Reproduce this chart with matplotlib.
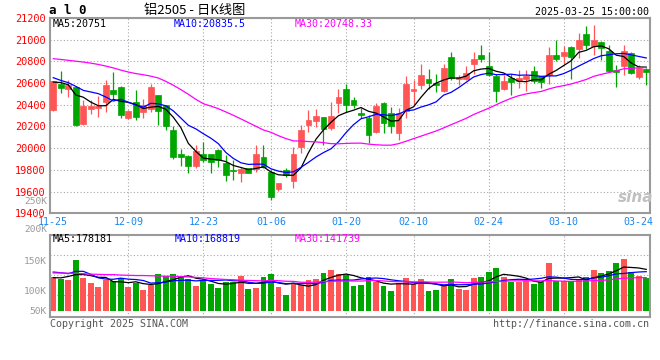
import matplotlib
matplotlib.use("Agg")
import matplotlib.pyplot as plt
import numpy as np
import pandas as pd

plt.rcParams['font.family'] = ['DejaVu Sans Mono', 'Noto Sans CJK SC']

# ==================== 数据 ====================
# 交易日: 2024-11-25 ~ 2025-03-25 (元旦、春节休市)
HOLIDAYS = ['2025-01-01', '2025-01-28', '2025-01-29', '2025-01-30',
            '2025-01-31', '2025-02-03', '2025-02-04']
dates = pd.bdate_range('2024-11-25', '2025-03-25', freq='C', holidays=HOLIDAYS)

opens = [20350, 20595, 20549, 20560, 20221, 20359, 20368, 20426, 20533, 20564,
         20279, 20423, 20334, 20365, 20487, 20395, 20166, 19945, 19926, 19835,
         19950, 19945, 19988, 19865, 19798, 19767, 19813, 19804, 19920, 19782,
         19623, 19798, 19700, 20012, 20212, 20251, 20288, 20190, 20420, 20549,
         20442, 20329, 20274, 20145, 20421, 20320, 20136, 20341, 20525, 20580,
         20641, 20605, 20525, 20841, 20635, 20641, 20779, 20862, 20758, 20668,
         20545, 20649, 20619, 20637, 20716, 20668, 20674, 20863, 20848, 20933,
         20918, 21055, 20939, 20979, 20899, 20719, 20756, 20881, 20652, 20726]
highs = [20620, 20708, 20625, 20570, 20447, 20447, 20485, 20625, 20702, 20570,
         20349, 20533, 20457, 20595, 20490, 20400, 20202, 19997, 19940, 20028,
         20060, 19950, 19995, 19936, 19890, 19828, 19815, 20028, 20028, 19798,
         19675, 19813, 20012, 20212, 20349, 20359, 20290, 20426, 20543, 20595,
         20473, 20366, 20304, 20421, 20425, 20381, 20372, 20666, 20632, 20779,
         20733, 20687, 20779, 20887, 20672, 20758, 20887, 20954, 20887, 20680,
         20674, 20680, 20719, 20719, 20756, 20670, 20933, 20994, 20942, 20940,
         21064, 21125, 21131, 20985, 20948, 20771, 20948, 20890, 20765, 20735]
lows = [20345, 20509, 20472, 20205, 20212, 20313, 20285, 20334, 20457, 20279,
        20267, 20264, 20282, 20334, 20212, 20172, 19905, 19835, 19767, 19813,
        19870, 19773, 19828, 19700, 19706, 19690, 19767, 19782, 19813, 19522,
        19608, 19736, 19635, 19957, 20150, 20196, 20028, 20166, 20325, 20335,
        20366, 20274, 20044, 20136, 20136, 20136, 20074, 20280, 20396, 20549,
        20549, 20519, 20519, 20626, 20580, 20626, 20687, 20795, 20670, 20430,
        20536, 20491, 20552, 20527, 20597, 20558, 20588, 20802, 20780, 20637,
        20832, 20912, 20863, 20811, 20704, 20567, 20674, 20680, 20637, 20582]
closes = [20615, 20555, 20579, 20212, 20389, 20389, 20388, 20579, 20503, 20303,
          20340, 20288, 20395, 20564, 20340, 20205, 19920, 19920, 19835, 19972,
          19895, 19874, 19890, 19752, 19792, 19804, 19773, 19945, 19828, 19553,
          19675, 19752, 19945, 20166, 20257, 20294, 20181, 20294, 20472, 20402,
          20402, 20304, 20120, 20390, 20228, 20206, 20329, 20595, 20549, 20672,
          20602, 20580, 20739, 20648, 20657, 20697, 20825, 20819, 20678, 20527,
          20619, 20613, 20643, 20665, 20619, 20613, 20863, 20826, 20887, 20841,
          21000, 20954, 20994, 20924, 20710, 20704, 20893, 20695, 20741, 20704]
volumes = [146000, 139000, 134000, 220000, 143000, 122000, 103000, 132000, 127000, 142000,
           103000, 122000, 92000, 110000, 159000, 149000, 159000, 149000, 139000, 107000,
           127000, 117000, 100000, 124000, 124000, 152000, 94000, 99000, 146000, 159000,
           103000, 69000, 117000, 110000, 133000, 137000, 163000, 176000, 159000, 156000,
           107000, 113000, 146000, 124000, 107000, 86000, 122000, 143000, 117000, 137000,
           86000, 92000, 107000, 137000, 96000, 92000, 143000, 146000, 167000, 184000,
           146000, 124000, 124000, 127000, 117000, 124000, 207000, 130000, 127000, 127000,
           139000, 144000, 176000, 163000, 172000, 206000, 225000, 167000, 152000, 142000]

# 均线开头几根 (之前的行情不在图内, 直接从图上读)
ma5_head = [20610, 20605, 20585, 20490]
ma10_head = [20650, 20625, 20604, 20570, 20533, 20518, 20503, 20472, 20435]
ma30_head = [20825, 20818, 20810, 20802, 20794, 20784, 20772, 20757, 20740, 20720,
             20702, 20688, 20677, 20664, 20647, 20616, 20580, 20540, 20497, 20450,
             20410, 20388, 20364, 20334, 20303, 20270, 20236, 20202, 20168]
vma5_head = [143000, 142000, 148000, 156000]
vma10_head = [167000, 164000, 160000, 170000, 170000, 157000, 142000, 137000, 136000]
vma30_head = [163000, 163000, 162000, 161000, 160000, 158000, 157000, 156000, 156000, 154000,
              153000, 152000, 152000, 151000, 150000, 149000, 149000, 147000, 146000, 144000,
              142000, 139000, 137000, 135000, 134000, 132000, 131000, 130000, 129000]

date_ticks = ['11-25', '12-09', '12-23', '01-06', '01-20', '02-10', '02-24', '03-10', '03-24']
price_ticks = list(range(19400, 21201, 200))
vol_labels = ['250K', '200K', '150K', '100K', '50K']

ma_price_text = ['MA5:20751', 'MA10:20835.5', 'MA30:20748.33']
ma_vol_text = ['MA5:178181', 'MA10:168819', 'MA30:141739']

# ==================== 样式 ====================
W, H = 660, 360
RED = '#FF5555'
GREEN = '#00A600'
GRID = '#A8A8A8'
BORDER = '#9A9A9A'
MA_COLORS = ['black', '#0000FF', '#FF00FF']
FS = 7.2


def px_rect(l, t, r, b):
    return [l / W, 1 - b / H, (r - l) / W, (b - t) / H]


def ptext(x, y, s, **kw):
    kw.setdefault('fontsize', FS)
    kw.setdefault('va', 'center')
    fig.text(x / W, 1 - y / H, s, **kw)


def moving_avg(values, n, head):
    ma = pd.Series(values, dtype=float).rolling(n).mean().to_numpy()
    ma[:len(head)] = head
    return ma


def style_axes(ax):
    for sp in ax.spines.values():
        sp.set_color(BORDER)
        sp.set_linewidth(1.5)
    ax.tick_params(length=0)
    ax.set_xlim(-0.5, len(closes) - 0.5)


x = np.arange(len(closes))
o = np.array(opens)
c = np.array(closes)
colors = np.where(c >= o, RED, GREEN)
labels_md = [d.strftime('%m-%d') for d in dates]
tick_idx = [labels_md.index(t) for t in date_ticks]

fig = plt.figure(figsize=(W / 100, H / 100), dpi=100, facecolor='white')
ax_p = fig.add_axes(px_rect(49.5, 18, 650, 213.3))
ax_v = fig.add_axes(px_rect(49.5, 234.7, 650, 317.3))

# ==================== K线 ====================
style_axes(ax_p)
ax_p.set_ylim(19400, 21200)
ax_p.set_yticks(price_ticks)
ax_p.set_yticklabels([str(v) for v in price_ticks], color='red', fontsize=7.4)
ax_p.tick_params(axis='y', pad=3)
ax_p.grid(axis='y', color=GRID, linestyle=(0, (1, 2)), linewidth=0.8)
for t in tick_idx[1:-1]:
    ax_p.axvline(t, color=GRID, linestyle=(0, (1, 2)), linewidth=0.8, zorder=0)
ax_p.set_xticks(tick_idx)
ax_p.set_xticklabels(date_ticks, color='#1C86EE', fontsize=FS)
ax_p.tick_params(axis='x', pad=2.5)

ax_p.vlines(x, lows, highs, colors=colors, linewidth=0.9, zorder=2)
ax_p.bar(x, np.abs(c - o), bottom=np.minimum(o, c), width=0.78,
         color=colors, edgecolor=colors, linewidth=0.5, zorder=3)

for n, head, col in zip([5, 10, 30], [ma5_head, ma10_head, ma30_head], MA_COLORS):
    ax_p.plot(x, moving_avg(closes, n, head), color=col, linewidth=0.9, zorder=4)

# ==================== 成交量 ====================
style_axes(ax_v)
ax_v.set_ylim(-27000, 327000)
ax_v.set_yticks([67000, 153000, 239000])
ax_v.set_yticklabels([])
ax_v.set_xticks(tick_idx)
ax_v.set_xticklabels([])
ax_v.grid(axis='y', color=GRID, linestyle=(0, (1, 2)), linewidth=0.8)
for t in tick_idx[1:-1]:
    ax_v.axvline(t, color=GRID, linestyle=(0, (1, 2)), linewidth=0.8, zorder=0)
ax_v.bar(x, volumes, width=0.78, color=colors, zorder=2)
for n, head, col in zip([5, 10, 30], [vma5_head, vma10_head, vma30_head], MA_COLORS):
    ax_v.plot(x, moving_avg(volumes, n, head), color=col, linewidth=0.9, zorder=3)

# ==================== 文字 ====================
ptext(49, 11, 'a l 0', fontweight='bold', fontsize=9)
ptext(195, 10.5, '铝2505 - 日K线图', ha='center', fontsize=9.5,
      family=['Noto Sans CJK SC', 'DejaVu Sans'])
ptext(649, 12, '2025-03-25 15:00:00', ha='right')

for xp, s, col in zip([53, 174, 295], ma_price_text, MA_COLORS):
    ptext(xp, 24, s, color=col)
for xp, s, col in zip([53, 175, 295], ma_vol_text, MA_COLORS):
    ptext(xp, 239, s, color=col)

# 量能刻度 (新浪原图的位置并不均匀)
for yp, s in zip([201.5, 229, 261, 291, 311], vol_labels):
    ptext(47, yp, s, ha='right', color='#999999', fontsize=6.8)

ptext(636, 197, 'sina', ha='center', color='#C0C0C0', fontsize=11,
      fontweight='bold', style='italic', family='DejaVu Sans')
ptext(50, 324, 'Copyright 2025 SINA.COM', color='#555555')
ptext(649, 324, 'http://finance.sina.com.cn', ha='right', color='#555555')

fig.savefig('out.png', dpi=100)
